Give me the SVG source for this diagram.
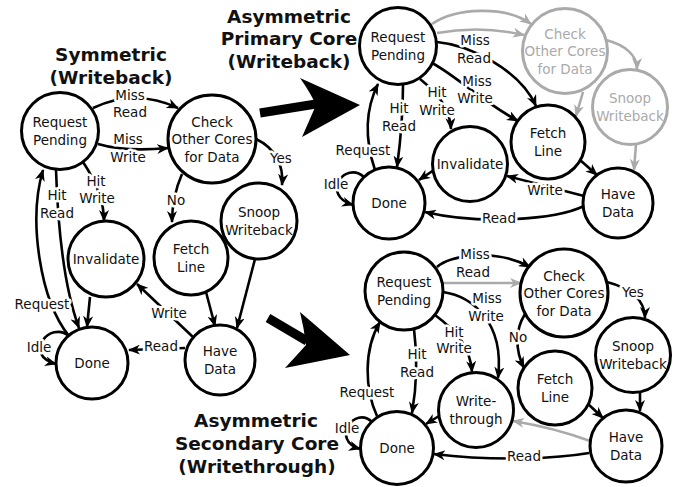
<svg xmlns="http://www.w3.org/2000/svg" width="683" height="487" viewBox="0 0 683 487">
<style>
.n{fill:#fff;stroke:#000;stroke-width:3}
.ng{fill:#fff;stroke:#aaa;stroke-width:3}
.nt{font-family:"DejaVu Sans",sans-serif;font-size:13.5px;fill:#111;text-anchor:middle}
.ntg{font-family:"DejaVu Sans",sans-serif;font-size:13.5px;fill:#aaa;text-anchor:middle}
.e{fill:none;stroke:#000;stroke-width:2.6;marker-end:url(#ah)}
.eg{fill:none;stroke:#aaa;stroke-width:2.6;marker-end:url(#ahg)}
.l{font-family:"DejaVu Sans",sans-serif;font-size:13.5px;fill:#111;text-anchor:middle;stroke:#fff;stroke-width:5;stroke-linejoin:round;paint-order:stroke}
.t{font-family:"DejaVu Sans",sans-serif;font-size:18.5px;font-weight:bold;fill:#111;text-anchor:middle}
</style>
<defs>
<marker id="ah" viewBox="0 0 12 10" refX="11" refY="5" markerWidth="12" markerHeight="10" markerUnits="userSpaceOnUse" orient="auto"><path d="M0,0 L12,5 L0,10 L3.5,5 Z" fill="#000"/></marker>
<marker id="ahg" viewBox="0 0 12 10" refX="11" refY="5" markerWidth="12" markerHeight="10" markerUnits="userSpaceOnUse" orient="auto"><path d="M0,0 L12,5 L0,10 L3.5,5 Z" fill="#aaa"/></marker>
</defs>
<rect width="683" height="487" fill="#fff"/>

<g id="titles">
<text class="t" x="111" y="61">Symmetric</text>
<text class="t" x="111" y="84">(Writeback)</text>
<text class="t" x="289" y="23">Asymmetric</text>
<text class="t" x="289" y="45">Primary Core</text>
<text class="t" x="289" y="68">(Writeback)</text>
<text class="t" x="256" y="427">Asymmetric</text>
<text class="t" x="257" y="450">Secondary Core</text>
<text class="t" x="257" y="473">(Writethrough)</text>
</g>

<g id="big-arrows" fill="#000">
<line x1="260" y1="113" x2="316" y2="104" stroke="#000" stroke-width="9"/>
<path d="M300,78 L360,105 L302,137 Q310,119 316,105 Q310,92 300,78 Z"/>
<line x1="268" y1="318" x2="307" y2="341" stroke="#000" stroke-width="9"/>
<path d="M300,312 L350,355 L285,368 Q297,355 306,345 Q304,328 300,312 Z"/>
</g>

<g id="connectors">
<!-- left symmetric -->
<path class="e" d="M93,108 Q135,88 178,108"/>
<path class="e" d="M98,144 Q125,152 168,148"/>
<path class="e" d="M83,162 C95,180 104,200 104,221"/>
<path class="e" d="M56,170 C58,230 65,290 79,328"/>
<path class="e" d="M69,336 C40,300 28,220 43,170"/>
<path class="e" d="M69,336 C50,320 22,355 56,364"/>
<path class="e" d="M256,139 C275,148 284,165 282,185"/>
<path class="e" d="M182,174 C175,190 172,205 172,222"/>
<path class="e" d="M206,292 L215,326"/>
<path class="e" d="M255,259 L237,328"/>
<path class="e" d="M194,338 L137,284"/>
<path class="e" d="M185,348 L129,350"/>
<path class="e" d="M90,297 L87,327"/>
<text class="l" x="130" y="100">Miss</text>
<text class="l" x="130" y="117">Read</text>
<text class="l" x="128" y="144">Miss</text>
<text class="l" x="128" y="162">Write</text>
<text class="l" x="96" y="186">Hit</text>
<text class="l" x="97" y="203">Write</text>
<text class="l" x="57" y="200">Hit</text>
<text class="l" x="57" y="218">Read</text>
<text class="l" x="42" y="309">Request</text>
<text class="l" x="39" y="352">Idle</text>
<text class="l" x="281" y="163">Yes</text>
<text class="l" x="176" y="205">No</text>
<text class="l" x="169" y="318">Write</text>
<text class="l" x="161" y="351">Read</text>

<!-- top right primary -->
<path class="eg" d="M432,24 C455,8 505,5 531,24"/>
<path class="eg" d="M437,33 Q480,25 524,35"/>
<path class="e" d="M437,42 C470,45 520,70 536,106"/>
<path class="e" d="M432,63 C455,75 480,100 518,121"/>
<path class="e" d="M420,79 C440,95 450,110 451,129"/>
<path class="e" d="M403,85 C403,120 400,145 397,167"/>
<path class="e" d="M375,170 C365,140 365,110 378,84"/>
<path class="e" d="M364,177 C345,160 320,195 353,205"/>
<path class="eg" d="M606,40 C625,45 637,55 637,69"/>
<path class="eg" d="M583,92 L576,116"/>
<path class="eg" d="M636,144 L634,170"/>
<path class="e" d="M580,160 L597,175"/>
<path class="e" d="M584,196 L507,176"/>
<path class="e" d="M584,206 C555,220 480,225 425,212"/>
<path class="e" d="M434,170 L419,180"/>
<text class="l" x="475" y="45">Miss</text>
<text class="l" x="474" y="63">Read</text>
<text class="l" x="477" y="86">Miss</text>
<text class="l" x="475" y="103">Write</text>
<text class="l" x="437" y="97">Hit</text>
<text class="l" x="437" y="115">Write</text>
<text class="l" x="399" y="113">Hit</text>
<text class="l" x="399" y="131">Read</text>
<text class="l" x="363" y="155">Request</text>
<text class="l" x="336" y="189">Idle</text>
<text class="l" x="545" y="195">Write</text>
<text class="l" x="499" y="223">Read</text>

<!-- bottom right secondary -->
<path class="e" d="M437,267 C450,255 495,248 530,267"/>
<path class="eg" d="M443,283 L521,283"/>
<path class="e" d="M443,292 C470,296 505,320 498,378"/>
<path class="e" d="M435,315 C455,330 470,345 472,372"/>
<path class="e" d="M414,329 C418,360 416,390 412,413"/>
<path class="e" d="M377,416 C365,390 363,350 380,322"/>
<path class="e" d="M372,422 C355,405 330,440 360,449"/>
<path class="e" d="M607,282 C630,288 645,300 645,318"/>
<path class="e" d="M525,314 C515,330 515,350 524,368"/>
<path class="e" d="M640,392 L640,411"/>
<path class="e" d="M587,403 L603,418"/>
<path class="eg" d="M590,441 Q555,428 513,421"/>
<path class="e" d="M589,453 C560,458 500,462 434,454"/>
<path class="e" d="M439,416 L426,424"/>
<text class="l" x="475" y="259">Miss</text>
<text class="l" x="473" y="277">Read</text>
<text class="l" x="487" y="303">Miss</text>
<text class="l" x="486" y="321">Write</text>
<text class="l" x="454" y="337">Hit</text>
<text class="l" x="454" y="353">Write</text>
<text class="l" x="417" y="359">Hit</text>
<text class="l" x="417" y="377">Read</text>
<text class="l" x="367" y="397">Request</text>
<text class="l" x="347" y="433">Idle</text>
<text class="l" x="633" y="297">Yes</text>
<text class="l" x="518" y="342">No</text>
<text class="l" x="524" y="461">Read</text>
</g>

<!-- left nodes -->
<g id="s-request"><circle class="n" cx="60" cy="131" r="38.5"/><text class="nt" x="60" y="127">Request</text><text class="nt" x="60" y="145">Pending</text></g>
<g id="s-check"><circle class="n" cx="212" cy="139" r="44"/><text class="nt" x="212" y="127">Check</text><text class="nt" x="212" y="144">Other Cores</text><text class="nt" x="212" y="162">for Data</text></g>
<g id="s-snoop"><circle class="n" cx="259" cy="221" r="38"/><text class="nt" x="259" y="217">Snoop</text><text class="nt" x="259" y="235">Writeback</text></g>
<g id="s-invalidate"><circle class="n" cx="106" cy="259" r="38"/><text class="nt" x="106" y="264">Invalidate</text></g>
<g id="s-fetch"><circle class="n" cx="191" cy="258" r="37"/><text class="nt" x="191" y="254">Fetch</text><text class="nt" x="191" y="272">Line</text></g>
<g id="s-done"><circle class="n" cx="92" cy="363" r="36"/><text class="nt" x="92" y="368">Done</text></g>
<g id="s-have"><circle class="n" cx="220" cy="360" r="35"/><text class="nt" x="220" y="356">Have</text><text class="nt" x="220" y="374">Data</text></g>

<!-- top right nodes -->
<g id="p-request"><circle class="n" cx="398" cy="46" r="38.5"/><text class="nt" x="398" y="42">Request</text><text class="nt" x="398" y="60">Pending</text></g>
<g id="p-check"><circle class="ng" cx="565" cy="51" r="42.5"/><text class="ntg" x="565" y="39">Check</text><text class="ntg" x="565" y="56">Other Cores</text><text class="ntg" x="565" y="74">for Data</text></g>
<g id="p-snoop"><circle class="ng" cx="630" cy="107" r="37.5"/><text class="ntg" x="630" y="103">Snoop</text><text class="ntg" x="630" y="121">Writeback</text></g>
<g id="p-fetch"><circle class="n" cx="548" cy="142" r="37"/><text class="nt" x="548" y="138">Fetch</text><text class="nt" x="548" y="156">Line</text></g>
<g id="p-invalidate"><circle class="n" cx="470" cy="164" r="37.5"/><text class="nt" x="470" y="169">Invalidate</text></g>
<g id="p-have"><circle class="n" cx="618" cy="203" r="35"/><text class="nt" x="618" y="199">Have</text><text class="nt" x="618" y="217">Data</text></g>
<g id="p-done"><circle class="n" cx="389" cy="203" r="36"/><text class="nt" x="389" y="208">Done</text></g>

<!-- bottom right nodes -->
<g id="w-request"><circle class="n" cx="404" cy="291" r="39"/><text class="nt" x="404" y="287">Request</text><text class="nt" x="404" y="305">Pending</text></g>
<g id="w-check"><circle class="n" cx="564" cy="293" r="44"/><text class="nt" x="564" y="281">Check</text><text class="nt" x="564" y="298">Other Cores</text><text class="nt" x="564" y="316">for Data</text></g>
<g id="w-snoop"><circle class="n" cx="633" cy="355" r="37.5"/><text class="nt" x="633" y="351">Snoop</text><text class="nt" x="633" y="369">Writeback</text></g>
<g id="w-fetch"><circle class="n" cx="555" cy="388" r="37"/><text class="nt" x="555" y="384">Fetch</text><text class="nt" x="555" y="402">Line</text></g>
<g id="w-writethrough"><circle class="n" cx="476" cy="410" r="37.5"/><text class="nt" x="476" y="406">Write-</text><text class="nt" x="476" y="424">through</text></g>
<g id="w-have"><circle class="n" cx="626" cy="446" r="36"/><text class="nt" x="626" y="442">Have</text><text class="nt" x="626" y="460">Data</text></g>
<g id="w-done"><circle class="n" cx="397" cy="448" r="36.5"/><text class="nt" x="397" y="453">Done</text></g>
</svg>
